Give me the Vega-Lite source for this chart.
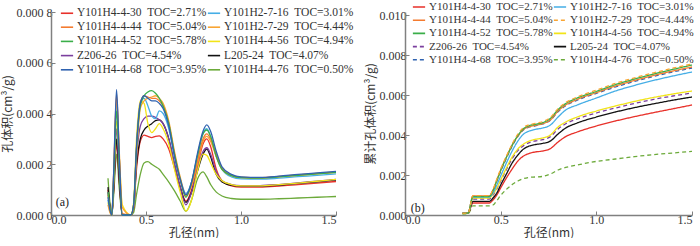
{
"$schema": "https://vega.github.io/schema/vega-lite/v6.json",
"padding": {"left": 1, "top": 0, "right": 0, "bottom": 0},
"background": "white",
"bounds": "flush",
"spacing": 69,
"config": {
  "font": "Liberation Serif",
  "view": {"stroke": null},
  "axis": {"domainColor": "#808080", "domainWidth": 1.5, "tickColor": "#808080", "tickSize": -4, "tickWidth": 1, "labelFont": "Liberation Serif", "labelFontSize": 12, "labelColor": "#333333", "titleFont": "Noto Sans CJK SC", "titleFontSize": 12, "titleFontWeight": "normal", "titleColor": "#333333", "grid": false, "labelPadding": 3, "titlePadding": 2},
  "legend": {"symbolType": "stroke", "symbolSize": 150, "symbolStrokeWidth": 1.6, "labelFont": "Liberation Serif", "labelFontSize": 11.5, "labelColor": "#333333", "rowPadding": 1.2, "columnPadding": -8, "padding": 0, "labelOffset": 3}
},
"datasets": {
  "samples": [
    {"id": "30", "label": "Y101H4-4-30 TOC=2.71%"},
    {"id": "16", "label": "Y101H2-7-16 TOC=3.01%"},
    {"id": "44", "label": "Y101H4-4-44 TOC=5.04%"},
    {"id": "29", "label": "Y101H2-7-29 TOC=4.44%"},
    {"id": "52", "label": "Y101H4-4-52 TOC=5.78%"},
    {"id": "56", "label": "Y101H4-4-56 TOC=4.94%"},
    {"id": "Z", "label": "Z206-26 TOC=4.54%"},
    {"id": "L", "label": "L205-24 TOC=4.07%"},
    {"id": "68", "label": "Y101H4-4-68 TOC=3.95%"},
    {"id": "76", "label": "Y101H4-4-76 TOC=0.50%"}
  ],
  "pv": [
{"id":"76","d":0.3,"v":1.45e-4},{"id":"76","d":0.31,"v":0.5e-4},{"id":"76","d":0.32,"v":0},{"id":"76","d":0.33,"v":0.8e-4},{"id":"76","d":0.345,"v":2.4e-4},{"id":"76","d":0.36,"v":1.0e-4},{"id":"76","d":0.375,"v":0},{"id":"76","d":0.42,"v":0},{"id":"76","d":0.435,"v":0.1e-4},{"id":"76","d":0.45,"v":0.8e-4},{"id":"76","d":0.47,"v":1.6e-4},{"id":"76","d":0.49,"v":2.05e-4},{"id":"76","d":0.51,"v":2.1e-4},{"id":"76","d":0.53,"v":2.0e-4},{"id":"76","d":0.55,"v":1.9e-4},{"id":"76","d":0.57,"v":1.8e-4},{"id":"76","d":0.59,"v":1.6e-4},{"id":"76","d":0.62,"v":1.3e-4},{"id":"76","d":0.65,"v":0.95e-4},{"id":"76","d":0.68,"v":0.55e-4},{"id":"76","d":0.71,"v":0.15e-4},{"id":"76","d":0.74,"v":0.6e-4},{"id":"76","d":0.77,"v":1.4e-4},{"id":"76","d":0.8,"v":1.7e-4},{"id":"76","d":0.82,"v":1.5e-4},{"id":"76","d":0.84,"v":1.2e-4},{"id":"76","d":0.87,"v":0.9e-4},{"id":"76","d":0.9,"v":0.75e-4},{"id":"76","d":0.95,"v":0.65e-4},{"id":"76","d":1.0,"v":0.62e-4},{"id":"76","d":1.1,"v":0.62e-4},{"id":"76","d":1.2,"v":0.64e-4},{"id":"76","d":1.3,"v":0.67e-4},{"id":"76","d":1.4,"v":0.7e-4},{"id":"76","d":1.5,"v":0.73e-4},
{"id":"30","d":0.3,"v":1.0e-4},{"id":"30","d":0.31,"v":0.3e-4},{"id":"30","d":0.32,"v":0},{"id":"30","d":0.33,"v":1.0e-4},{"id":"30","d":0.345,"v":2.8e-4},{"id":"30","d":0.36,"v":1.3e-4},{"id":"30","d":0.375,"v":0},{"id":"30","d":0.42,"v":0},{"id":"30","d":0.435,"v":0.3e-4},{"id":"30","d":0.45,"v":1.8e-4},{"id":"30","d":0.47,"v":2.9e-4},{"id":"30","d":0.49,"v":3.15e-4},{"id":"30","d":0.51,"v":3.1e-4},{"id":"30","d":0.53,"v":3.05e-4},{"id":"30","d":0.55,"v":3.1e-4},{"id":"30","d":0.57,"v":3.12e-4},{"id":"30","d":0.59,"v":3.0e-4},{"id":"30","d":0.62,"v":2.6e-4},{"id":"30","d":0.65,"v":1.85e-4},{"id":"30","d":0.68,"v":1.1e-4},{"id":"30","d":0.71,"v":0.55e-4},{"id":"30","d":0.74,"v":1.0e-4},{"id":"30","d":0.77,"v":1.9e-4},{"id":"30","d":0.8,"v":2.8e-4},{"id":"30","d":0.82,"v":3.0e-4},{"id":"30","d":0.84,"v":2.7e-4},{"id":"30","d":0.87,"v":1.8e-4},{"id":"30","d":0.9,"v":1.35e-4},{"id":"30","d":0.95,"v":1.15e-4},{"id":"30","d":1.0,"v":1.1e-4},{"id":"30","d":1.1,"v":1.1e-4},{"id":"30","d":1.2,"v":1.14e-4},{"id":"30","d":1.3,"v":1.2e-4},{"id":"30","d":1.4,"v":1.26e-4},{"id":"30","d":1.5,"v":1.32e-4},
{"id":"L","d":0.3,"v":1.1e-4},{"id":"L","d":0.31,"v":0.35e-4},{"id":"L","d":0.32,"v":0},{"id":"L","d":0.33,"v":1.05e-4},{"id":"L","d":0.345,"v":3.0e-4},{"id":"L","d":0.36,"v":1.3e-4},{"id":"L","d":0.375,"v":0},{"id":"L","d":0.42,"v":0},{"id":"L","d":0.435,"v":0.3e-4},{"id":"L","d":0.45,"v":2.0e-4},{"id":"L","d":0.47,"v":3.0e-4},{"id":"L","d":0.49,"v":3.35e-4},{"id":"L","d":0.51,"v":3.5e-4},{"id":"L","d":0.53,"v":3.6e-4},{"id":"L","d":0.55,"v":3.72e-4},{"id":"L","d":0.57,"v":3.75e-4},{"id":"L","d":0.59,"v":3.6e-4},{"id":"L","d":0.62,"v":3.0e-4},{"id":"L","d":0.65,"v":2.0e-4},{"id":"L","d":0.68,"v":1.1e-4},{"id":"L","d":0.71,"v":0.5e-4},{"id":"L","d":0.74,"v":0.9e-4},{"id":"L","d":0.77,"v":1.7e-4},{"id":"L","d":0.8,"v":2.4e-4},{"id":"L","d":0.82,"v":2.6e-4},{"id":"L","d":0.84,"v":2.3e-4},{"id":"L","d":0.87,"v":1.6e-4},{"id":"L","d":0.9,"v":1.3e-4},{"id":"L","d":0.95,"v":1.17e-4},{"id":"L","d":1.0,"v":1.14e-4},{"id":"L","d":1.1,"v":1.14e-4},{"id":"L","d":1.2,"v":1.18e-4},{"id":"L","d":1.3,"v":1.25e-4},{"id":"L","d":1.4,"v":1.31e-4},{"id":"L","d":1.5,"v":1.38e-4},
{"id":"Z","d":0.3,"v":0.9e-4},{"id":"Z","d":0.31,"v":0.3e-4},{"id":"Z","d":0.32,"v":0},{"id":"Z","d":0.33,"v":1.2e-4},{"id":"Z","d":0.345,"v":3.4e-4},{"id":"Z","d":0.36,"v":1.5e-4},{"id":"Z","d":0.375,"v":0},{"id":"Z","d":0.42,"v":0},{"id":"Z","d":0.435,"v":0.3e-4},{"id":"Z","d":0.45,"v":2.2e-4},{"id":"Z","d":0.47,"v":3.5e-4},{"id":"Z","d":0.49,"v":3.8e-4},{"id":"Z","d":0.51,"v":3.9e-4},{"id":"Z","d":0.53,"v":3.9e-4},{"id":"Z","d":0.55,"v":3.85e-4},{"id":"Z","d":0.57,"v":3.75e-4},{"id":"Z","d":0.59,"v":3.6e-4},{"id":"Z","d":0.62,"v":3.0e-4},{"id":"Z","d":0.65,"v":2.0e-4},{"id":"Z","d":0.68,"v":1.1e-4},{"id":"Z","d":0.71,"v":0.4e-4},{"id":"Z","d":0.74,"v":0.9e-4},{"id":"Z","d":0.77,"v":1.8e-4},{"id":"Z","d":0.8,"v":2.5e-4},{"id":"Z","d":0.82,"v":2.65e-4},{"id":"Z","d":0.84,"v":2.4e-4},{"id":"Z","d":0.87,"v":1.7e-4},{"id":"Z","d":0.9,"v":1.35e-4},{"id":"Z","d":0.95,"v":1.2e-4},{"id":"Z","d":1.0,"v":1.16e-4},{"id":"Z","d":1.1,"v":1.16e-4},{"id":"Z","d":1.2,"v":1.2e-4},{"id":"Z","d":1.3,"v":1.27e-4},{"id":"Z","d":1.4,"v":1.33e-4},{"id":"Z","d":1.5,"v":1.4e-4},
{"id":"56","d":0.3,"v":0.5e-4},{"id":"56","d":0.31,"v":0.15e-4},{"id":"56","d":0.32,"v":0},{"id":"56","d":0.33,"v":1.3e-4},{"id":"56","d":0.345,"v":3.7e-4},{"id":"56","d":0.36,"v":2.2e-4},{"id":"56","d":0.375,"v":0.4e-4},{"id":"56","d":0.42,"v":0},{"id":"56","d":0.435,"v":0.5e-4},{"id":"56","d":0.45,"v":3.0e-4},{"id":"56","d":0.47,"v":4.5e-4},{"id":"56","d":0.49,"v":4.4e-4},{"id":"56","d":0.51,"v":3.6e-4},{"id":"56","d":0.53,"v":3.25e-4},{"id":"56","d":0.55,"v":3.4e-4},{"id":"56","d":0.57,"v":3.6e-4},{"id":"56","d":0.59,"v":3.4e-4},{"id":"56","d":0.62,"v":2.8e-4},{"id":"56","d":0.65,"v":1.8e-4},{"id":"56","d":0.68,"v":0.9e-4},{"id":"56","d":0.71,"v":0.15e-4},{"id":"56","d":0.74,"v":0.6e-4},{"id":"56","d":0.77,"v":1.7e-4},{"id":"56","d":0.8,"v":2.4e-4},{"id":"56","d":0.82,"v":2.35e-4},{"id":"56","d":0.84,"v":2.05e-4},{"id":"56","d":0.87,"v":1.6e-4},{"id":"56","d":0.9,"v":1.35e-4},{"id":"56","d":0.95,"v":1.2e-4},{"id":"56","d":1.0,"v":1.15e-4},{"id":"56","d":1.1,"v":1.15e-4},{"id":"56","d":1.2,"v":1.2e-4},{"id":"56","d":1.3,"v":1.26e-4},{"id":"56","d":1.4,"v":1.33e-4},{"id":"56","d":1.5,"v":1.4e-4},
{"id":"16","d":0.3,"v":0.6e-4},{"id":"16","d":0.31,"v":0.2e-4},{"id":"16","d":0.32,"v":0},{"id":"16","d":0.33,"v":1.6e-4},{"id":"16","d":0.345,"v":4.5e-4},{"id":"16","d":0.36,"v":2.0e-4},{"id":"16","d":0.375,"v":0},{"id":"16","d":0.42,"v":0},{"id":"16","d":0.435,"v":0.4e-4},{"id":"16","d":0.45,"v":2.6e-4},{"id":"16","d":0.47,"v":4.4e-4},{"id":"16","d":0.49,"v":4.6e-4},{"id":"16","d":0.51,"v":4.3e-4},{"id":"16","d":0.53,"v":3.9e-4},{"id":"16","d":0.55,"v":3.8e-4},{"id":"16","d":0.57,"v":4.1e-4},{"id":"16","d":0.59,"v":4.0e-4},{"id":"16","d":0.62,"v":3.4e-4},{"id":"16","d":0.65,"v":2.3e-4},{"id":"16","d":0.68,"v":1.45e-4},{"id":"16","d":0.71,"v":0.85e-4},{"id":"16","d":0.74,"v":1.3e-4},{"id":"16","d":0.77,"v":2.3e-4},{"id":"16","d":0.8,"v":3.2e-4},{"id":"16","d":0.82,"v":3.4e-4},{"id":"16","d":0.84,"v":3.1e-4},{"id":"16","d":0.87,"v":2.3e-4},{"id":"16","d":0.9,"v":1.8e-4},{"id":"16","d":0.95,"v":1.5e-4},{"id":"16","d":1.0,"v":1.42e-4},{"id":"16","d":1.1,"v":1.41e-4},{"id":"16","d":1.2,"v":1.45e-4},{"id":"16","d":1.3,"v":1.51e-4},{"id":"16","d":1.4,"v":1.56e-4},{"id":"16","d":1.5,"v":1.62e-4},
{"id":"29","d":0.3,"v":0.4e-4},{"id":"29","d":0.31,"v":0.1e-4},{"id":"29","d":0.32,"v":0},{"id":"29","d":0.33,"v":1.6e-4},{"id":"29","d":0.345,"v":4.6e-4},{"id":"29","d":0.36,"v":2.4e-4},{"id":"29","d":0.375,"v":0.3e-4},{"id":"29","d":0.42,"v":0},{"id":"29","d":0.435,"v":0.3e-4},{"id":"29","d":0.45,"v":2.3e-4},{"id":"29","d":0.47,"v":4.2e-4},{"id":"29","d":0.49,"v":4.5e-4},{"id":"29","d":0.51,"v":4.6e-4},{"id":"29","d":0.53,"v":4.65e-4},{"id":"29","d":0.55,"v":4.7e-4},{"id":"29","d":0.57,"v":4.6e-4},{"id":"29","d":0.59,"v":4.4e-4},{"id":"29","d":0.62,"v":3.7e-4},{"id":"29","d":0.65,"v":2.5e-4},{"id":"29","d":0.68,"v":1.5e-4},{"id":"29","d":0.71,"v":0.75e-4},{"id":"29","d":0.74,"v":1.15e-4},{"id":"29","d":0.77,"v":2.0e-4},{"id":"29","d":0.8,"v":2.9e-4},{"id":"29","d":0.82,"v":3.1e-4},{"id":"29","d":0.84,"v":2.9e-4},{"id":"29","d":0.87,"v":2.3e-4},{"id":"29","d":0.9,"v":1.8e-4},{"id":"29","d":0.95,"v":1.55e-4},{"id":"29","d":1.0,"v":1.47e-4},{"id":"29","d":1.1,"v":1.45e-4},{"id":"29","d":1.2,"v":1.5e-4},{"id":"29","d":1.3,"v":1.56e-4},{"id":"29","d":1.4,"v":1.62e-4},{"id":"29","d":1.5,"v":1.68e-4},
{"id":"44","d":0.3,"v":0.8e-4},{"id":"44","d":0.31,"v":0.25e-4},{"id":"44","d":0.32,"v":0},{"id":"44","d":0.33,"v":1.7e-4},{"id":"44","d":0.345,"v":4.8e-4},{"id":"44","d":0.36,"v":2.2e-4},{"id":"44","d":0.375,"v":0.05e-4},{"id":"44","d":0.42,"v":0},{"id":"44","d":0.435,"v":0.4e-4},{"id":"44","d":0.45,"v":2.6e-4},{"id":"44","d":0.47,"v":4.4e-4},{"id":"44","d":0.49,"v":4.7e-4},{"id":"44","d":0.51,"v":4.65e-4},{"id":"44","d":0.53,"v":4.6e-4},{"id":"44","d":0.55,"v":4.6e-4},{"id":"44","d":0.57,"v":4.5e-4},{"id":"44","d":0.59,"v":4.3e-4},{"id":"44","d":0.62,"v":3.6e-4},{"id":"44","d":0.65,"v":2.4e-4},{"id":"44","d":0.68,"v":1.4e-4},{"id":"44","d":0.71,"v":0.75e-4},{"id":"44","d":0.74,"v":1.2e-4},{"id":"44","d":0.77,"v":2.1e-4},{"id":"44","d":0.8,"v":3.0e-4},{"id":"44","d":0.82,"v":3.2e-4},{"id":"44","d":0.84,"v":3.0e-4},{"id":"44","d":0.87,"v":2.4e-4},{"id":"44","d":0.9,"v":1.85e-4},{"id":"44","d":0.95,"v":1.57e-4},{"id":"44","d":1.0,"v":1.49e-4},{"id":"44","d":1.1,"v":1.47e-4},{"id":"44","d":1.2,"v":1.52e-4},{"id":"44","d":1.3,"v":1.58e-4},{"id":"44","d":1.4,"v":1.64e-4},{"id":"44","d":1.5,"v":1.7e-4},
{"id":"52","d":0.3,"v":0.9e-4},{"id":"52","d":0.31,"v":0.3e-4},{"id":"52","d":0.32,"v":0},{"id":"52","d":0.33,"v":1.4e-4},{"id":"52","d":0.345,"v":4.1e-4},{"id":"52","d":0.36,"v":1.8e-4},{"id":"52","d":0.375,"v":0},{"id":"52","d":0.42,"v":0},{"id":"52","d":0.435,"v":0.4e-4},{"id":"52","d":0.45,"v":2.6e-4},{"id":"52","d":0.47,"v":4.3e-4},{"id":"52","d":0.49,"v":4.7e-4},{"id":"52","d":0.51,"v":4.85e-4},{"id":"52","d":0.53,"v":4.9e-4},{"id":"52","d":0.55,"v":4.8e-4},{"id":"52","d":0.57,"v":4.6e-4},{"id":"52","d":0.59,"v":4.3e-4},{"id":"52","d":0.62,"v":3.6e-4},{"id":"52","d":0.65,"v":2.4e-4},{"id":"52","d":0.68,"v":1.4e-4},{"id":"52","d":0.71,"v":0.7e-4},{"id":"52","d":0.74,"v":1.3e-4},{"id":"52","d":0.77,"v":2.3e-4},{"id":"52","d":0.8,"v":3.2e-4},{"id":"52","d":0.82,"v":3.35e-4},{"id":"52","d":0.84,"v":3.1e-4},{"id":"52","d":0.87,"v":2.3e-4},{"id":"52","d":0.9,"v":1.8e-4},{"id":"52","d":0.95,"v":1.55e-4},{"id":"52","d":1.0,"v":1.47e-4},{"id":"52","d":1.1,"v":1.45e-4},{"id":"52","d":1.2,"v":1.5e-4},{"id":"52","d":1.3,"v":1.56e-4},{"id":"52","d":1.4,"v":1.62e-4},{"id":"52","d":1.5,"v":1.68e-4},
{"id":"68","d":0.3,"v":0.7e-4},{"id":"68","d":0.31,"v":0.2e-4},{"id":"68","d":0.32,"v":0},{"id":"68","d":0.33,"v":1.7e-4},{"id":"68","d":0.345,"v":4.95e-4},{"id":"68","d":0.36,"v":2.2e-4},{"id":"68","d":0.375,"v":0},{"id":"68","d":0.42,"v":0},{"id":"68","d":0.435,"v":0.4e-4},{"id":"68","d":0.45,"v":2.7e-4},{"id":"68","d":0.47,"v":4.4e-4},{"id":"68","d":0.49,"v":4.7e-4},{"id":"68","d":0.51,"v":4.6e-4},{"id":"68","d":0.53,"v":4.5e-4},{"id":"68","d":0.55,"v":4.5e-4},{"id":"68","d":0.57,"v":4.4e-4},{"id":"68","d":0.59,"v":4.2e-4},{"id":"68","d":0.62,"v":3.5e-4},{"id":"68","d":0.65,"v":2.3e-4},{"id":"68","d":0.68,"v":1.4e-4},{"id":"68","d":0.71,"v":0.8e-4},{"id":"68","d":0.74,"v":1.3e-4},{"id":"68","d":0.77,"v":2.4e-4},{"id":"68","d":0.8,"v":3.3e-4},{"id":"68","d":0.82,"v":3.55e-4},{"id":"68","d":0.84,"v":3.3e-4},{"id":"68","d":0.87,"v":2.5e-4},{"id":"68","d":0.9,"v":1.9e-4},{"id":"68","d":0.95,"v":1.6e-4},{"id":"68","d":1.0,"v":1.5e-4},{"id":"68","d":1.1,"v":1.48e-4},{"id":"68","d":1.2,"v":1.53e-4},{"id":"68","d":1.3,"v":1.6e-4},{"id":"68","d":1.4,"v":1.66e-4},{"id":"68","d":1.5,"v":1.72e-4}
  ],
  "cum": [
{"id":"76","d":0.3,"v":0.05e-3},{"id":"76","d":0.33,"v":0.06e-3},{"id":"76","d":0.355,"v":0.46e-3},{"id":"76","d":0.44,"v":0.46e-3},{"id":"76","d":0.46,"v":0.5e-3},{"id":"76","d":0.48,"v":0.72e-3},{"id":"76","d":0.5,"v":0.98e-3},{"id":"76","d":0.53,"v":1.28e-3},{"id":"76","d":0.56,"v":1.52e-3},{"id":"76","d":0.59,"v":1.7e-3},{"id":"76","d":0.62,"v":1.82e-3},{"id":"76","d":0.65,"v":1.88e-3},{"id":"76","d":0.68,"v":1.9e-3},{"id":"76","d":0.72,"v":1.93e-3},{"id":"76","d":0.76,"v":2.05e-3},{"id":"76","d":0.8,"v":2.25e-3},{"id":"76","d":0.84,"v":2.38e-3},{"id":"76","d":0.9,"v":2.5e-3},{"id":"76","d":1.0,"v":2.68e-3},{"id":"76","d":1.1,"v":2.8e-3},{"id":"76","d":1.2,"v":2.92e-3},{"id":"76","d":1.3,"v":3.02e-3},{"id":"76","d":1.4,"v":3.1e-3},{"id":"76","d":1.5,"v":3.18e-3},
{"id":"30","d":0.3,"v":0.08e-3},{"id":"30","d":0.33,"v":0.1e-3},{"id":"30","d":0.355,"v":0.6e-3},{"id":"30","d":0.44,"v":0.6e-3},{"id":"30","d":0.46,"v":0.75e-3},{"id":"30","d":0.48,"v":1.0e-3},{"id":"30","d":0.5,"v":1.35e-3},{"id":"30","d":0.53,"v":1.85e-3},{"id":"30","d":0.56,"v":2.3e-3},{"id":"30","d":0.59,"v":2.7e-3},{"id":"30","d":0.62,"v":2.95e-3},{"id":"30","d":0.65,"v":3.08e-3},{"id":"30","d":0.68,"v":3.15e-3},{"id":"30","d":0.72,"v":3.2e-3},{"id":"30","d":0.76,"v":3.32e-3},{"id":"30","d":0.8,"v":3.65e-3},{"id":"30","d":0.84,"v":3.92e-3},{"id":"30","d":0.9,"v":4.15e-3},{"id":"30","d":1.0,"v":4.45e-3},{"id":"30","d":1.1,"v":4.7e-3},{"id":"30","d":1.2,"v":4.92e-3},{"id":"30","d":1.3,"v":5.12e-3},{"id":"30","d":1.4,"v":5.31e-3},{"id":"30","d":1.5,"v":5.5e-3},
{"id":"L","d":0.3,"v":0.08e-3},{"id":"L","d":0.33,"v":0.1e-3},{"id":"L","d":0.355,"v":0.68e-3},{"id":"L","d":0.44,"v":0.68e-3},{"id":"L","d":0.46,"v":0.85e-3},{"id":"L","d":0.48,"v":1.1e-3},{"id":"L","d":0.5,"v":1.5e-3},{"id":"L","d":0.53,"v":2.05e-3},{"id":"L","d":0.56,"v":2.6e-3},{"id":"L","d":0.59,"v":3.0e-3},{"id":"L","d":0.62,"v":3.3e-3},{"id":"L","d":0.65,"v":3.45e-3},{"id":"L","d":0.68,"v":3.52e-3},{"id":"L","d":0.72,"v":3.58e-3},{"id":"L","d":0.76,"v":3.7e-3},{"id":"L","d":0.8,"v":4.05e-3},{"id":"L","d":0.84,"v":4.35e-3},{"id":"L","d":0.9,"v":4.6e-3},{"id":"L","d":1.0,"v":4.9e-3},{"id":"L","d":1.1,"v":5.15e-3},{"id":"L","d":1.2,"v":5.37e-3},{"id":"L","d":1.3,"v":5.56e-3},{"id":"L","d":1.4,"v":5.74e-3},{"id":"L","d":1.5,"v":5.9e-3},
{"id":"Z","d":0.3,"v":0.08e-3},{"id":"Z","d":0.33,"v":0.1e-3},{"id":"Z","d":0.355,"v":0.8e-3},{"id":"Z","d":0.44,"v":0.8e-3},{"id":"Z","d":0.46,"v":1.0e-3},{"id":"Z","d":0.48,"v":1.3e-3},{"id":"Z","d":0.5,"v":1.7e-3},{"id":"Z","d":0.53,"v":2.28e-3},{"id":"Z","d":0.56,"v":2.82e-3},{"id":"Z","d":0.59,"v":3.22e-3},{"id":"Z","d":0.62,"v":3.47e-3},{"id":"Z","d":0.65,"v":3.62e-3},{"id":"Z","d":0.68,"v":3.7e-3},{"id":"Z","d":0.72,"v":3.77e-3},{"id":"Z","d":0.76,"v":3.92e-3},{"id":"Z","d":0.8,"v":4.3e-3},{"id":"Z","d":0.84,"v":4.56e-3},{"id":"Z","d":0.9,"v":4.8e-3},{"id":"Z","d":1.0,"v":5.1e-3},{"id":"Z","d":1.1,"v":5.35e-3},{"id":"Z","d":1.2,"v":5.58e-3},{"id":"Z","d":1.3,"v":5.78e-3},{"id":"Z","d":1.4,"v":5.95e-3},{"id":"Z","d":1.5,"v":6.1e-3},
{"id":"56","d":0.3,"v":0.08e-3},{"id":"56","d":0.33,"v":0.1e-3},{"id":"56","d":0.355,"v":0.85e-3},{"id":"56","d":0.44,"v":0.85e-3},{"id":"56","d":0.46,"v":1.05e-3},{"id":"56","d":0.48,"v":1.35e-3},{"id":"56","d":0.5,"v":1.75e-3},{"id":"56","d":0.53,"v":2.35e-3},{"id":"56","d":0.56,"v":2.9e-3},{"id":"56","d":0.59,"v":3.3e-3},{"id":"56","d":0.62,"v":3.55e-3},{"id":"56","d":0.65,"v":3.7e-3},{"id":"56","d":0.68,"v":3.78e-3},{"id":"56","d":0.72,"v":3.85e-3},{"id":"56","d":0.76,"v":4.0e-3},{"id":"56","d":0.8,"v":4.4e-3},{"id":"56","d":0.84,"v":4.65e-3},{"id":"56","d":0.9,"v":4.9e-3},{"id":"56","d":1.0,"v":5.2e-3},{"id":"56","d":1.1,"v":5.45e-3},{"id":"56","d":1.2,"v":5.68e-3},{"id":"56","d":1.3,"v":5.88e-3},{"id":"56","d":1.4,"v":6.05e-3},{"id":"56","d":1.5,"v":6.2e-3},
{"id":"16","d":0.3,"v":0.08e-3},{"id":"16","d":0.33,"v":0.1e-3},{"id":"16","d":0.355,"v":0.9e-3},{"id":"16","d":0.44,"v":0.9e-3},{"id":"16","d":0.46,"v":1.1e-3},{"id":"16","d":0.48,"v":1.5e-3},{"id":"16","d":0.5,"v":1.95e-3},{"id":"16","d":0.53,"v":2.6e-3},{"id":"16","d":0.56,"v":3.2e-3},{"id":"16","d":0.59,"v":3.7e-3},{"id":"16","d":0.62,"v":4.05e-3},{"id":"16","d":0.65,"v":4.2e-3},{"id":"16","d":0.68,"v":4.28e-3},{"id":"16","d":0.72,"v":4.35e-3},{"id":"16","d":0.76,"v":4.5e-3},{"id":"16","d":0.8,"v":4.9e-3},{"id":"16","d":0.84,"v":5.25e-3},{"id":"16","d":0.9,"v":5.5e-3},{"id":"16","d":1.0,"v":5.85e-3},{"id":"16","d":1.1,"v":6.2e-3},{"id":"16","d":1.2,"v":6.48e-3},{"id":"16","d":1.3,"v":6.73e-3},{"id":"16","d":1.4,"v":6.95e-3},{"id":"16","d":1.5,"v":7.15e-3},
{"id":"68","d":0.3,"v":0.08e-3},{"id":"68","d":0.33,"v":0.1e-3},{"id":"68","d":0.355,"v":0.93e-3},{"id":"68","d":0.44,"v":0.93e-3},{"id":"68","d":0.46,"v":1.2e-3},{"id":"68","d":0.48,"v":1.7e-3},{"id":"68","d":0.5,"v":2.18e-3},{"id":"68","d":0.53,"v":2.84e-3},{"id":"68","d":0.56,"v":3.44e-3},{"id":"68","d":0.59,"v":3.93e-3},{"id":"68","d":0.62,"v":4.26e-3},{"id":"68","d":0.65,"v":4.4e-3},{"id":"68","d":0.68,"v":4.46e-3},{"id":"68","d":0.72,"v":4.55e-3},{"id":"68","d":0.76,"v":4.74e-3},{"id":"68","d":0.8,"v":5.16e-3},{"id":"68","d":0.84,"v":5.46e-3},{"id":"68","d":0.9,"v":5.74e-3},{"id":"68","d":1.0,"v":6.08e-3},{"id":"68","d":1.1,"v":6.4e-3},{"id":"68","d":1.2,"v":6.68e-3},{"id":"68","d":1.3,"v":6.93e-3},{"id":"68","d":1.4,"v":7.15e-3},{"id":"68","d":1.5,"v":7.35e-3},
{"id":"44","d":0.3,"v":0.08e-3},{"id":"44","d":0.33,"v":0.1e-3},{"id":"44","d":0.355,"v":0.95e-3},{"id":"44","d":0.44,"v":0.95e-3},{"id":"44","d":0.46,"v":1.25e-3},{"id":"44","d":0.48,"v":1.75e-3},{"id":"44","d":0.5,"v":2.25e-3},{"id":"44","d":0.53,"v":2.9e-3},{"id":"44","d":0.56,"v":3.5e-3},{"id":"44","d":0.59,"v":3.95e-3},{"id":"44","d":0.62,"v":4.28e-3},{"id":"44","d":0.65,"v":4.42e-3},{"id":"44","d":0.68,"v":4.48e-3},{"id":"44","d":0.72,"v":4.57e-3},{"id":"44","d":0.76,"v":4.75e-3},{"id":"44","d":0.8,"v":5.2e-3},{"id":"44","d":0.84,"v":5.5e-3},{"id":"44","d":0.9,"v":5.78e-3},{"id":"44","d":1.0,"v":6.12e-3},{"id":"44","d":1.1,"v":6.45e-3},{"id":"44","d":1.2,"v":6.73e-3},{"id":"44","d":1.3,"v":6.98e-3},{"id":"44","d":1.4,"v":7.2e-3},{"id":"44","d":1.5,"v":7.4e-3},
{"id":"52","d":0.3,"v":0.08e-3},{"id":"52","d":0.33,"v":0.1e-3},{"id":"52","d":0.355,"v":0.92e-3},{"id":"52","d":0.44,"v":0.92e-3},{"id":"52","d":0.46,"v":1.22e-3},{"id":"52","d":0.48,"v":1.72e-3},{"id":"52","d":0.5,"v":2.22e-3},{"id":"52","d":0.53,"v":2.88e-3},{"id":"52","d":0.56,"v":3.48e-3},{"id":"52","d":0.59,"v":3.98e-3},{"id":"52","d":0.62,"v":4.32e-3},{"id":"52","d":0.65,"v":4.47e-3},{"id":"52","d":0.68,"v":4.53e-3},{"id":"52","d":0.72,"v":4.62e-3},{"id":"52","d":0.76,"v":4.83e-3},{"id":"52","d":0.8,"v":5.27e-3},{"id":"52","d":0.84,"v":5.57e-3},{"id":"52","d":0.9,"v":5.85e-3},{"id":"52","d":1.0,"v":6.18e-3},{"id":"52","d":1.1,"v":6.52e-3},{"id":"52","d":1.2,"v":6.8e-3},{"id":"52","d":1.3,"v":7.05e-3},{"id":"52","d":1.4,"v":7.28e-3},{"id":"52","d":1.5,"v":7.5e-3},
{"id":"29","d":0.3,"v":0.08e-3},{"id":"29","d":0.33,"v":0.1e-3},{"id":"29","d":0.355,"v":0.97e-3},{"id":"29","d":0.44,"v":0.97e-3},{"id":"29","d":0.46,"v":1.28e-3},{"id":"29","d":0.48,"v":1.8e-3},{"id":"29","d":0.5,"v":2.3e-3},{"id":"29","d":0.53,"v":2.95e-3},{"id":"29","d":0.56,"v":3.55e-3},{"id":"29","d":0.59,"v":4.05e-3},{"id":"29","d":0.62,"v":4.38e-3},{"id":"29","d":0.65,"v":4.52e-3},{"id":"29","d":0.68,"v":4.58e-3},{"id":"29","d":0.72,"v":4.67e-3},{"id":"29","d":0.76,"v":4.88e-3},{"id":"29","d":0.8,"v":5.32e-3},{"id":"29","d":0.84,"v":5.62e-3},{"id":"29","d":0.9,"v":5.9e-3},{"id":"29","d":1.0,"v":6.24e-3},{"id":"29","d":1.1,"v":6.58e-3},{"id":"29","d":1.2,"v":6.86e-3},{"id":"29","d":1.3,"v":7.11e-3},{"id":"29","d":1.4,"v":7.34e-3},{"id":"29","d":1.5,"v":7.55e-3}
  ]
},
"hconcat": [
  {
    "width": 285, "height": 203,
    "layer": [
      {
        "data": {"name": "pv"},
        "transform": [{"lookup": "id", "from": {"data": {"name": "samples"}, "key": "id", "fields": ["label"]}}],
        "mark": {"type": "line", "interpolate": "monotone", "strokeWidth": 1.3},
        "encoding": {
          "x": {"field": "d", "type": "quantitative", "scale": {"domain": [0, 1.5], "nice": false, "zero": false}, "axis": {"values": [0, 0.5, 1, 1.5], "format": ".1f", "title": "孔径(nm)"}},
          "y": {"field": "v", "type": "quantitative", "scale": {"domain": [0, 0.0008], "nice": false}, "axis": {"values": [0, 0.0002, 0.0004, 0.0006, 0.0008], "labelExpr": "'0.000 ' + substring(format(datum.value, '.4f'), 5)", "title": "孔体积(cm³/g)"}},
          "color": {"field": "label", "type": "nominal",
            "scale": {"domain": ["Y101H4-4-30 TOC=2.71%","Y101H4-4-44 TOC=5.04%","Y101H4-4-52 TOC=5.78%","Z206-26 TOC=4.54%","Y101H4-4-68 TOC=3.95%","Y101H2-7-16 TOC=3.01%","Y101H2-7-29 TOC=4.44%","Y101H4-4-56 TOC=4.94%","L205-24 TOC=4.07%","Y101H4-4-76 TOC=0.50%"],
                      "range": ["#e8312a","#f47b2f","#3aae49","#7b3f9e","#2f62b0","#45aee6","#f9a533","#f2e418","#111111","#6caa3a"]},
            "legend": {"title": null, "orient": "none", "legendX": 9, "legendY": -6, "columns": 2, "labelExpr": "replace(datum.label, ' ', '\u00a0\u00a0')"}}
        }
      },
      {
        "data": {"values": [{"t": "(a)", "d": 0.025, "v": 0.00005}]},
        "mark": {"type": "text", "align": "left", "baseline": "middle", "font": "Liberation Serif", "fontSize": 12, "color": "#222222"},
        "encoding": {"x": {"field": "d", "type": "quantitative"}, "y": {"field": "v", "type": "quantitative"}, "text": {"field": "t"}}
      }
    ]
  },
  {
    "width": 287, "height": 203,
    "layer": [
      {
        "data": {"name": "cum"},
        "transform": [{"lookup": "id", "from": {"data": {"name": "samples"}, "key": "id", "fields": ["label"]}}],
        "mark": {"type": "line", "interpolate": "monotone", "strokeWidth": 1.3},
        "encoding": {
          "x": {"field": "d", "type": "quantitative", "scale": {"domain": [0, 1.5], "nice": false, "zero": false}, "axis": {"values": [0, 0.5, 1, 1.5], "format": ".1f", "title": "孔径(nm)"}},
          "y": {"field": "v", "type": "quantitative", "scale": {"domain": [0, 0.01015], "nice": false}, "axis": {"values": [0, 0.002, 0.004, 0.006, 0.008, 0.01], "format": ".3f", "title": "累计孔体积(cm³/g)"}},
          "color": {"field": "label", "type": "nominal",
            "scale": {"domain": ["Y101H4-4-30 TOC=2.71%","Y101H4-4-44 TOC=5.04%","Y101H4-4-52 TOC=5.78%","Z206-26 TOC=4.54%","Y101H4-4-68 TOC=3.95%","Y101H2-7-16 TOC=3.01%","Y101H2-7-29 TOC=4.44%","Y101H4-4-56 TOC=4.94%","L205-24 TOC=4.07%","Y101H4-4-76 TOC=0.50%"],
                      "range": ["#e8312a","#f47b2f","#3aae49","#7b3f9e","#2f62b0","#45aee6","#f9a533","#f2e418","#111111","#6caa3a"]},
            "legend": {"title": null, "orient": "none", "legendX": 7, "legendY": -12, "columns": 2, "labelFontSize": 11, "columnPadding": -20, "labelExpr": "replace(datum.label, ' ', '\u00a0\u00a0')"}},
          "strokeDash": {"field": "label", "type": "nominal",
            "scale": {"domain": ["Y101H4-4-30 TOC=2.71%","Y101H4-4-44 TOC=5.04%","Y101H4-4-52 TOC=5.78%","Z206-26 TOC=4.54%","Y101H4-4-68 TOC=3.95%","Y101H2-7-16 TOC=3.01%","Y101H2-7-29 TOC=4.44%","Y101H4-4-56 TOC=4.94%","L205-24 TOC=4.07%","Y101H4-4-76 TOC=0.50%"],
                      "range": [[1,0],[1,0],[1,0],[4,3],[4,3],[1,0],[4,3],[1,0],[1,0],[4,3]]},
            "legend": {"title": null, "orient": "none", "legendX": 7, "legendY": -12, "columns": 2, "labelFontSize": 11, "columnPadding": -20, "labelExpr": "replace(datum.label, ' ', '\u00a0\u00a0')"}}
        }
      },
      {
        "data": {"values": [{"t": "(b)", "d": 0.03, "v": 0.00037}]},
        "mark": {"type": "text", "align": "left", "baseline": "middle", "font": "Liberation Serif", "fontSize": 12, "color": "#222222"},
        "encoding": {"x": {"field": "d", "type": "quantitative"}, "y": {"field": "v", "type": "quantitative"}, "text": {"field": "t"}}
      }
    ]
  }
],
"resolve": {"scale": {"color": "independent", "strokeDash": "independent", "x": "independent", "y": "independent"}, "legend": {"color": "independent", "strokeDash": "independent"}}
}
